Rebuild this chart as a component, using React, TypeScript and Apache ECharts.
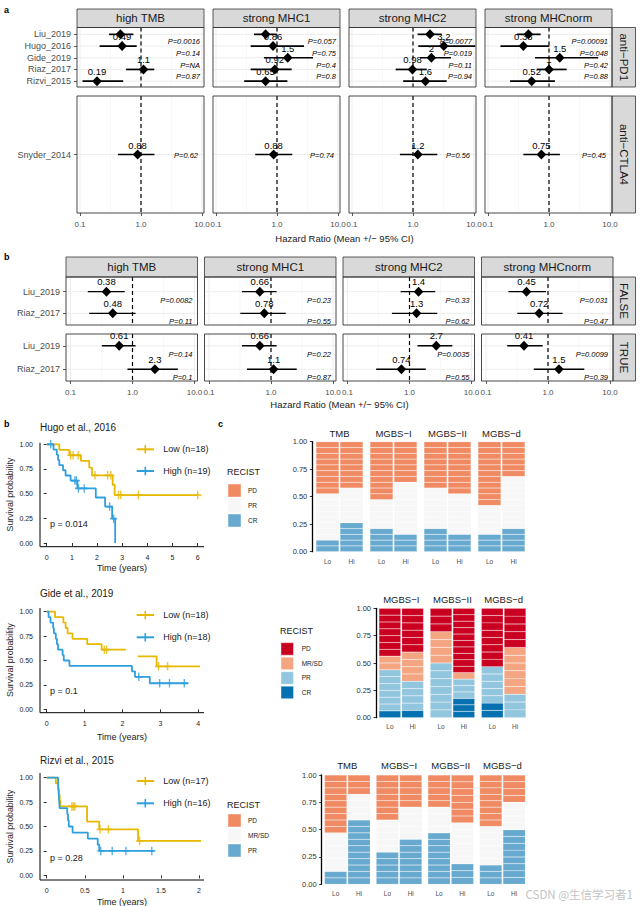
import React, { useEffect, useRef } from "react";
import * as echarts from "echarts";

const FONT = "'Liberation Sans', Arial, Helvetica, sans-serif";
const CJK = "'Noto Sans CJK SC', 'Noto Sans', sans-serif";

// ================= Panel a data =================
const features = ["high TMB", "strong MHC1", "strong MHC2", "strong MHCnorm"];
const studiesPD1 = ["Liu_2019", "Hugo_2016", "Gide_2019", "Riaz_2017", "Rizvi_2015"];
const pd1HR = [
  [0.46, 0.49, null, 1.1, 0.19],
  [0.65, 0.86, 1.5, 0.92, 0.65],
  [1.9, 3.2, 2, 0.98, 1.6],
  [0.46, 0.38, 1.5, 1, 0.52],
];
const pd1Lo = [
  [0.3, 0.21, null, 0.57, 0.11],
  [0.42, 0.37, 0.61, 0.37, 0.29],
  [1.19, 1.22, 1.3, 0.52, 0.69],
  [0.3, 0.16, 0.59, 0.63, 0.23],
];
const pd1Hi = [
  [0.75, 0.85, null, 1.65, 0.51],
  [0.99, 2.77, 3.9, 1.74, 1.48],
  [2.95, 10.5, 4.2, 1.68, 3.57],
  [0.73, 1.01, 6.4, 1.95, 1.25],
];
const pd1P = [
  ["0.0016", "0.14", "NA", "0.87", null],
  ["0.057", "0.75", "0.4", "0.8", null],
  ["0.0077", "0.019", "0.11", "0.94", null],
  ["0.00091", "0.048", "0.42", "0.88", null],
];
const pd1LabelShown = [false, true, true, true, true];

const studiesCTLA4 = ["Snyder_2014"];
const ctla4HR = [0.88, 0.88, 1.2, 0.75];
const ctla4Lo = [0.42, 0.44, 0.61, 0.38];
const ctla4Hi = [1.66, 1.78, 2.5, 1.51];
const ctla4P = ["0.62", "0.74", "0.56", "0.45"];

// ================= Panel b (forest) data =================
const subsetsB = ["FALSE", "TRUE"];
const studiesB = ["Liu_2019", "Riaz_2017"];
const bHR = [
  [[0.38, 0.48], [0.61, 2.3]],
  [[0.66, 0.78], [0.66, 1.1]],
  [[1.4, 1.3], [2.7, 0.74]],
  [[0.45, 0.72], [0.41, 1.5]],
];
const bLo = [
  [[0.19, 0.2], [0.32, 0.83]],
  [[0.34, 0.32], [0.34, 0.41]],
  [[0.72, 0.52], [1.35, 0.29]],
  [[0.23, 0.32], [0.22, 0.59]],
];
const bHi = [
  [[0.75, 1.12], [1.12, 5.4]],
  [[1.23, 1.73], [1.23, 2.6]],
  [[2.6, 2.8], [4.9, 1.83]],
  [[0.93, 1.72], [0.82, 3.85]],
];
const bP = [
  [["0.0082", "0.11"], ["0.14", "0.1"]],
  [["0.23", "0.55"], ["0.22", "0.87"]],
  [["0.33", "0.62"], ["0.0035", "0.55"]],
  [["0.031", "0.47"], ["0.0099", "0.39"]],
];

// ================= Kaplan-Meier data =================
const hugoLow = [[0, 1], [0.5, 0.944], [0.9, 0.889], [1.36, 0.833], [1.69, 0.764], [1.8, 0.686], [2.62, 0.59], [2.7, 0.486], [6, 0.486]];
const hugoLowCensor = [[0.95, 0.889], [1.05, 0.889], [1.25, 0.889], [1.92, 0.686], [2.42, 0.686], [2.55, 0.686], [2.85, 0.486], [2.94, 0.486], [3.64, 0.486], [6, 0.486]];
const hugoHigh = [[0, 1], [0.27, 0.947], [0.4, 0.895], [0.45, 0.842], [0.5, 0.789], [0.65, 0.737], [0.75, 0.684], [0.95, 0.632], [1.22, 0.553], [1.95, 0.461], [2.32, 0.369], [2.6, 0.246], [2.72, 0]];
const hugoHighCensor = [[0.16, 1], [1.12, 0.632], [1.18, 0.632], [1.26, 0.553], [1.49, 0.553], [2.5, 0.369], [2.66, 0.246]];

const gideLowA = [[0, 1], [0.22, 0.944], [0.44, 0.889], [0.5, 0.833], [0.55, 0.778], [0.68, 0.722], [1.07, 0.667], [1.45, 0.611], [2.09, 0.611]];
const gideLowB = [[2.4, 0.543], [2.9, 0.44], [4.15, 0.44]];
const gideLowCensor = [[1.52, 0.611], [1.58, 0.611], [2.95, 0.44], [3.19, 0.44]];
const gideHigh = [[0, 1], [0.05, 0.944], [0.1, 0.889], [0.17, 0.833], [0.19, 0.778], [0.24, 0.722], [0.27, 0.667], [0.3, 0.611], [0.42, 0.556], [0.45, 0.5], [0.6, 0.444], [2.25, 0.389], [2.33, 0.333], [2.72, 0.267], [3.74, 0.267]];
const gideHighCensor = [[2.43, 0.333], [2.98, 0.267], [3.24, 0.267], [3.63, 0.267]];

const rizviLow = [[0, 1], [0.12, 0.941], [0.15, 0.882], [0.16, 0.824], [0.17, 0.765], [0.18, 0.706], [0.53, 0.549], [0.69, 0.471], [1.2, 0.353], [2.07, 0.353]];
const rizviLowCensor = [[0.33, 0.706], [0.35, 0.706], [0.37, 0.706], [0.7, 0.471], [0.81, 0.471], [1.22, 0.353]];
const rizviHigh = [[0, 1], [0.15, 0.938], [0.155, 0.875], [0.16, 0.813], [0.165, 0.75], [0.17, 0.688], [0.27, 0.625], [0.28, 0.563], [0.29, 0.5], [0.34, 0.438], [0.54, 0.375], [0.67, 0.313], [0.69, 0.25], [1.41, 0.25]];
const rizviHighCensor = [[0.71, 0.25], [0.86, 0.25], [1.04, 0.25], [1.38, 0.25]];

const kmTitles = ["Hugo et al., 2016", "Gide et al., 2019", "Rizvi et al., 2015"];
const kmLegends = [["Low (n=18)", "High (n=19)"], ["Low (n=18)", "High (n=18)"], ["Low (n=17)", "High (n=16)"]];
const kmP = ["p = 0.014", "p = 0.1", "p = 0.28"];

// ================= Panel c (response bars) data =================
const c1Facets = ["TMB", "MGBS−I", "MGBS−II", "MGBS−d"];
const c1Classes = ["CR", "PR", "PD"]; // bottom -> top
const c1Lo = [[2, 8, 9], [4, 5, 10], [4, 7, 8], [3, 5, 11]];
const c1Hi = [[5, 6, 8], [3, 9, 7], [3, 7, 9], [4, 9, 6]];

const c2Facets = ["MGBS−I", "MGBS−II", "MGBS−d"];
const c2Classes = ["CR", "PR", "MR/SD", "PD"];
const c2Lo = [[1, 6, 2, 7], [0, 7, 4, 3], [2, 5, 0, 8]];
const c2Hi = [[1, 4, 4, 6], [3, 3, 1, 10], [0, 3, 6, 5]];

const c3Facets = ["TMB", "MGBS−I", "MGBS−II", "MGBS−d"];
const c3Classes = ["PR", "MR/SD", "PD"];
const c3Lo = [[2, 6, 9], [5, 5, 7], [8, 4, 5], [3, 6, 8]];
const c3Hi = [[10, 4, 3], [7, 5, 5], [3, 6, 7], [8, 4, 4]];

const groupsLoHi = ["Lo", "Hi"];

// ================= styles =================
const YELLOW = "#E7B800";
const BLUE = "#2E9FDF";
const pal3: any = { PD: "#EF8A62", PR: "#F7F7F7", CR: "#67A9CF" };
const pal3b: any = { PD: "#EF8A62", "MR/SD": "#F7F7F7", PR: "#67A9CF" };
const pal4: any = { PD: "#CA0020", "MR/SD": "#F4A582", PR: "#92C5DE", CR: "#0571B0" };
const PLUS = "path://M4,0L6,0L6,10L4,10ZM0,4L10,4L10,6L0,6Z";

const fmtHR = (v: number) => String(Number(v.toPrecision(2)));

function txt(x: number, y: number, text: string, s: any = {}, extra: any = {}) {
  return {
    type: "text", x, y, silent: true, z: 50, ...extra,
    style: { text, fontFamily: FONT, fontSize: 9, fill: "#1A1A1A", align: "left", verticalAlign: "middle", ...s },
  };
}
function rect(x: number, y: number, w: number, h: number, style: any, z = 40) {
  return { type: "rect", shape: { x, y, width: w, height: h }, style, silent: true, z };
}
function gline(x1: number, y1: number, x2: number, y2: number, style: any, z = 40) {
  return { type: "line", shape: { x1, y1, x2, y2 }, style, silent: true, z };
}

function addForest(o: any, c: any) {
  const gi = o.grid.length;
  o.grid.push({ left: c.L + c.padL, top: c.gTop, width: c.W - c.padL - c.padR, height: c.gBot - c.gTop });
  const xi = o.xAxis.length;
  o.xAxis.push({
    type: "log", logBase: 10, min: 0.1, max: 10, gridIndex: gi,
    axisLine: { show: false },
    axisTick: { show: c.showX, length: 3, lineStyle: { color: "#333", width: 0.8 } },
    axisLabel: { show: c.showX, fontSize: 8, color: "#4D4D4D", margin: 7, fontFamily: FONT, formatter: (v: number) => Number(v).toFixed(1) },
    splitLine: { show: false },
  });
  const yi = o.yAxis.length;
  o.yAxis.push({
    type: "category", data: c.cats, inverse: true, gridIndex: gi, offset: c.padL,
    axisLine: { show: false },
    axisTick: { show: c.showY, alignWithLabel: true, interval: 0, length: 3, lineStyle: { color: "#333", width: 0.8 } },
    axisLabel: { show: c.showY, interval: 0, fontSize: 9, color: "#4D4D4D", margin: 6, fontFamily: FONT },
    splitLine: { show: false },
  });
  o.series.push({
    type: "custom", xAxisIndex: xi, yAxisIndex: yi,
    data: c.cats.map((_: any, i: number) => [c.hr[i] == null ? 1 : c.hr[i], i]),
    encode: { x: 0, y: 1 },
    renderItem: (params: any, api: any) => {
      const i = params.dataIndex;
      const ch: any[] = [];
      const x0 = c.L, x1 = c.L + c.W;
      if (i === 0) {
        for (const v of [Math.sqrt(0.1), Math.sqrt(10)]) {
          const x = api.coord([v, 0])[0];
          ch.push({ type: "line", shape: { x1: x, y1: c.pTop, x2: x, y2: c.pBot }, style: { stroke: "#F4F4F4", lineWidth: 0.6 } });
        }
        for (const v of [0.1, 1, 10]) {
          const x = api.coord([v, 0])[0];
          ch.push({ type: "line", shape: { x1: x, y1: c.pTop, x2: x, y2: c.pBot }, style: { stroke: "#EBEBEB", lineWidth: 0.9 } });
        }
        for (let j = 0; j < c.cats.length; j++) {
          const y = api.coord([1, j])[1];
          ch.push({ type: "line", shape: { x1: x0, y1: y, x2: x1, y2: y }, style: { stroke: "#EBEBEB", lineWidth: 0.9 } });
        }
        const xd = api.coord([1, 0])[0];
        ch.push({ type: "line", shape: { x1: xd, y1: c.pTop, x2: xd, y2: c.pBot }, style: { stroke: "#000", lineWidth: 1.2, lineDash: [4, 3] } });
      }
      const py0 = api.coord([1, i])[1];
      const h = c.hr[i];
      if (h != null) {
        const [px, py] = api.coord([h, i]);
        const xl = api.coord([c.lo[i], i])[0];
        const xh = api.coord([c.hi[i], i])[0];
        ch.push({ type: "line", shape: { x1: xl, y1: py, x2: xh, y2: py }, style: { stroke: "#000", lineWidth: c.lw } });
        ch.push({ type: "polygon", shape: { points: [[px, py - 5], [px + 4.8, py], [px, py + 5], [px - 4.8, py]] }, style: { fill: "#000" } });
        if (c.showLab[i]) {
          ch.push({ type: "text", x: px, y: py + c.labDy, style: { text: fmtHR(h), fontSize: 9.5, fill: "#000", fontFamily: FONT, align: "center", verticalAlign: "middle" } });
        }
      }
      if (c.p[i] != null) {
        const xr = api.coord([10, i])[0] + c.pDx;
        ch.push({ type: "text", x: xr, y: py0 + c.pDy, style: { text: "P=" + c.p[i], fontSize: 7.5, fontStyle: "italic", fill: "#000", fontFamily: FONT, align: "right", verticalAlign: "middle" } });
      }
      return { type: "group", children: ch };
    },
  });
}

function addKM(o: any, k: any) {
  const g = o.graphic;
  const gi = o.grid.length;
  o.grid.push({ left: k.t0, top: k.y0 - k.pxY, width: k.xMax * k.pxX, height: k.pxY });
  const xi = o.xAxis.length;
  o.xAxis.push({
    type: "value", gridIndex: gi, min: 0, max: k.xMax, interval: k.xInt, offset: k.axY - k.y0,
    axisLine: { show: false },
    axisTick: { show: true, length: 3, lineStyle: { color: "#000", width: 0.8 } },
    axisLabel: { fontSize: 7, color: "#1A1A1A", margin: 7, fontFamily: FONT },
    splitLine: { show: false },
  });
  const yi = o.yAxis.length;
  o.yAxis.push({
    type: "value", gridIndex: gi, min: 0, max: 1, interval: 0.25, offset: k.t0 - k.axX,
    axisLine: { show: false },
    axisTick: { show: true, length: 3, lineStyle: { color: "#000", width: 0.8 } },
    axisLabel: { fontSize: 7, color: "#1A1A1A", margin: 7, fontFamily: FONT, formatter: (v: number) => v.toFixed(2) },
    splitLine: { show: false },
  });
  k.curves.forEach((cv: any) => {
    cv.lines.forEach((seg: any) => {
      o.series.push({ type: "line", xAxisIndex: xi, yAxisIndex: yi, data: seg, step: "end", symbol: "none", showSymbol: false, clip: false, lineStyle: { color: cv.color, width: 1.8 }, z: 3 });
    });
    o.series.push({ type: "scatter", xAxisIndex: xi, yAxisIndex: yi, data: cv.censor, symbol: PLUS, symbolSize: [7, 8.5], itemStyle: { color: cv.color }, z: 4 });
  });
  g.push(gline(k.axX, k.axTop, k.axX, k.axY, { stroke: "#000", lineWidth: 1 }));
  g.push(gline(k.axX, k.axY, k.axRight, k.axY, { stroke: "#000", lineWidth: 1 }));
  g.push(txt(40, k.titleY, k.title, { fontSize: 10 }));
  k.legY.forEach((ly: number, li: number) => {
    const col = k.curves[li].color;
    g.push(gline(136.7, ly, 154, ly, { stroke: col, lineWidth: 2 }));
    g.push(gline(145.3, ly - 4.2, 145.3, ly + 4.2, { stroke: col, lineWidth: 1.6 }));
    g.push(txt(163.3, ly, k.legend[li], { fontSize: 9 }));
  });
  g.push(txt(50, k.pY, k.p, { fontSize: 9 }));
  g.push(txt(10, k.yTitleY, "Survival probability", { fontSize: 8.8, align: "center" }, { rotation: Math.PI / 2 }));
  g.push(txt(122, k.xTitleY, "Time (years)", { fontSize: 9, align: "center" }));
}

function expand(counts: number[], classes: string[]) {
  const out: string[] = [];
  counts.forEach((n, ci) => { for (let j = 0; j < n; j++) out.push(classes[ci]); });
  return out;
}

function addBars(o: any, b: any) {
  const g = o.graphic;
  b.facets.forEach((fname: string, fi: number) => {
    const gi = o.grid.length;
    const left = b.starts[fi];
    o.grid.push({ left, top: b.y1, width: b.w, height: b.y0 - b.y1 });
    const xi = o.xAxis.length;
    o.xAxis.push({
      type: "category", data: groupsLoHi, gridIndex: gi,
      axisLine: { show: false }, axisTick: { show: false },
      axisLabel: { interval: 0, fontSize: 6.5, color: "#4D4D4D", margin: b.xMargin, fontFamily: FONT },
      splitLine: { show: false },
    });
    const yi = o.yAxis.length;
    o.yAxis.push({
      type: "value", gridIndex: gi, min: 0, max: 1, interval: 0.25, show: fi === 0, offset: left - b.axX,
      axisLine: { show: true, lineStyle: { color: "#000", width: 1.3 } },
      axisTick: { show: true, length: 2.5, lineStyle: { color: "#000", width: 0.8 } },
      axisLabel: { fontSize: 7.5, color: "#333", margin: 5, fontFamily: FONT, formatter: (v: number) => v.toFixed(2) },
      splitLine: { show: false },
    });
    const lo = expand(b.lo[fi], b.classes);
    const hi = expand(b.hi[fi], b.classes);
    const n = Math.max(lo.length, hi.length);
    const item = (arr: string[], k: number) =>
      k < arr.length ? { value: 1 / arr.length, itemStyle: { color: b.pal[arr[k]] } } : "-";
    for (let k = 0; k < n; k++) {
      o.series.push({
        type: "bar", xAxisIndex: xi, yAxisIndex: yi, stack: "s" + gi, barCategoryGap: "4%",
        data: [item(lo, k), item(hi, k)],
        itemStyle: { borderColor: "rgba(255,255,255,0.35)", borderWidth: 0.45 },
      });
    }
    g.push(txt(left + b.w / 2, b.titleY, fname, { fontSize: 9.5, align: "center" }));
  });
  g.push(txt(b.leg.x - 1, b.leg.titleY, "RECIST", { fontSize: 9 }));
  b.leg.order.forEach((cls: string, i: number) => {
    const y = b.leg.y0 + i * b.leg.step;
    g.push(rect(b.leg.x, y, b.leg.size, b.leg.size, { fill: b.pal[cls], stroke: "rgba(255,255,255,0.7)", lineWidth: 0.6 }));
    g.push(txt(b.leg.tx, y + b.leg.size / 2, cls, { fontSize: 6.5 }));
  });
}

function buildOption() {
  const o: any = { grid: [], xAxis: [], yAxis: [], series: [], graphic: [] };
  const g = o.graphic;

  const bold = { fontWeight: "bold", fontSize: 9, fill: "#000" };
  g.push(txt(4, 9.5, "a", bold));
  g.push(txt(4, 257, "b", bold));
  g.push(txt(4, 424, "b", bold));
  g.push(txt(218, 424, "c", bold));

  const stripStyle = { fill: "#D9D9D9", stroke: "#333", lineWidth: 0.8 };
  const borderStyle = { fill: "none", stroke: "#333", lineWidth: 0.9 };

  // ---------- Panel a ----------
  const colsA = [77, 213, 349, 485];
  const WA = 127;
  features.forEach((f, fi) => {
    const L = colsA[fi];
    g.push(rect(L, 9, WA, 18.5, stripStyle));
    g.push(txt(L + WA / 2, 18.25, f, { fontSize: 11.5, align: "center" }));
    addForest(o, {
      L, W: WA, padL: 3, padR: 2, pTop: 27.5, pBot: 87, gTop: 28.5, gBot: 87,
      cats: studiesPD1, hr: pd1HR[fi], lo: pd1Lo[fi], hi: pd1Hi[fi], p: pd1P[fi], showLab: pd1LabelShown,
      labDy: -9.5, pDy: 7.5, pDx: -2, showY: fi === 0, showX: false, lw: 1.7,
    });
    g.push(rect(L, 27.5, WA, 59.5, borderStyle, 60));
    addForest(o, {
      L, W: WA, padL: 3, padR: 2, pTop: 96, pBot: 213, gTop: 96, gBot: 213,
      cats: studiesCTLA4, hr: [ctla4HR[fi]], lo: [ctla4Lo[fi]], hi: [ctla4Hi[fi]], p: [ctla4P[fi]], showLab: [true],
      labDy: -9, pDy: 1, pDx: -4, showY: fi === 0, showX: true, lw: 1.7,
    });
    g.push(rect(L, 96, WA, 117, borderStyle, 60));
  });
  g.push(rect(612, 27.5, 23.5, 59.5, stripStyle));
  g.push(txt(623.75, 57.25, "anti−PD1", { fontSize: 11.5, align: "center" }, { rotation: -Math.PI / 2 }));
  g.push(rect(612, 96, 23.5, 117, stripStyle));
  g.push(txt(623.75, 154.5, "anti−CTLA4", { fontSize: 11.5, align: "center" }, { rotation: -Math.PI / 2 }));
  g.push(txt(344.5, 238, "Hazard Ratio (Mean +/− 95% CI)", { fontSize: 9.5, align: "center" }));

  // ---------- Panel b (forest) ----------
  const colsB = [66, 204.5, 343, 481.5];
  const WB = 131.5;
  const rowsB = [
    { pTop: 277, pBot: 325, gTop: 280.8, gBot: 324.2 },
    { pTop: 334, pBot: 381, gTop: 334, gBot: 381 },
  ];
  features.forEach((f, fi) => {
    const L = colsB[fi];
    g.push(rect(L, 257, WB, 20, stripStyle));
    g.push(txt(L + WB / 2, 267, f, { fontSize: 11.5, align: "center" }));
    subsetsB.forEach((s, si) => {
      const r = rowsB[si];
      addForest(o, {
        L, W: WB, padL: 4.5, padR: 3, pTop: r.pTop, pBot: r.pBot, gTop: r.gTop, gBot: r.gBot,
        cats: studiesB, hr: bHR[fi][si], lo: bLo[fi][si], hi: bHi[fi][si], p: bP[fi][si], showLab: [true, true],
        labDy: -10, pDy: 8.5, pDx: -2, showY: fi === 0, showX: si === 1, lw: 1.4,
      });
      g.push(rect(L, r.pTop, WB, r.pBot - r.pTop, borderStyle, 60));
    });
  });
  subsetsB.forEach((s, si) => {
    const r = rowsB[si];
    g.push(rect(613, r.pTop, 22.5, r.pBot - r.pTop, stripStyle));
    g.push(txt(624.25, (r.pTop + r.pBot) / 2, s, { fontSize: 11.5, align: "center" }, { rotation: -Math.PI / 2 }));
  });
  g.push(txt(339.5, 404, "Hazard Ratio (Mean +/− 95% CI)", { fontSize: 9.5, align: "center" }));

  // ---------- Kaplan-Meier ----------
  const kmLayouts = [
    { titleY: 427, t0: 46.7, pxX: 25.17, xMax: 6, xInt: 1, y0: 543, pxY: 98.7, axX: 40, axY: 546.7, axTop: 442.7, axRight: 204, legY: [449.3, 471], pY: 524.3, yTitleY: 494.5, xTitleY: 568 },
    { titleY: 593.3, t0: 46.7, pxX: 37.9, xMax: 4, xInt: 1, y0: 709.3, pxY: 97.6, axX: 40, axY: 712.7, axTop: 608, axRight: 204, legY: [615, 637.3], pY: 691, yTitleY: 660, xTitleY: 737.3 },
    { titleY: 760, t0: 46.7, pxX: 76.15, xMax: 2, xInt: 0.5, y0: 875.3, pxY: 97.6, axX: 40, axY: 880, axTop: 773, axRight: 204, legY: [781, 803.3], pY: 857.7, yTitleY: 826.5, xTitleY: 901.7 },
  ];
  const kmCurves = [
    [{ color: YELLOW, lines: [hugoLow], censor: hugoLowCensor }, { color: BLUE, lines: [hugoHigh], censor: hugoHighCensor }],
    [{ color: YELLOW, lines: [gideLowA, gideLowB], censor: gideLowCensor }, { color: BLUE, lines: [gideHigh], censor: gideHighCensor }],
    [{ color: YELLOW, lines: [rizviLow], censor: rizviLowCensor }, { color: BLUE, lines: [rizviHigh], censor: rizviHighCensor }],
  ];
  kmLayouts.forEach((lay, i) => {
    addKM(o, { ...lay, title: kmTitles[i], legend: kmLegends[i], p: kmP[i], curves: kmCurves[i] });
  });

  // ---------- Response bars ----------
  addBars(o, {
    facets: c1Facets, classes: c1Classes, lo: c1Lo, hi: c1Hi, pal: pal3,
    starts: [315.5, 369.5, 423.5, 477.5], w: 48, y0: 551.7, y1: 441.7, axX: 312.3, titleY: 433.3, xMargin: 6,
    leg: { x: 228, titleY: 472, y0: 484, step: 15, size: 13, tx: 248, order: ["PD", "PR", "CR"] },
  });
  addBars(o, {
    facets: c2Facets, classes: c2Classes, lo: c2Lo, hi: c2Hi, pal: pal4,
    starts: [378.5, 429.7, 480.9], w: 45.5, y0: 717.7, y1: 608.3, axX: 376, titleY: 599, xMargin: 5.5,
    leg: { x: 281, titleY: 631, y0: 642.7, step: 14.5, size: 12.5, tx: 301.7, order: ["PD", "MR/SD", "PR", "CR"] },
  });
  addBars(o, {
    facets: c3Facets, classes: c3Classes, lo: c3Lo, hi: c3Hi, pal: pal3b,
    starts: [324, 375.7, 427.4, 479.1], w: 46.7, y0: 884.3, y1: 775, axX: 321.7, titleY: 765.7, xMargin: 5.5,
    leg: { x: 228, titleY: 805, y0: 814, step: 15, size: 13, tx: 248, order: ["PD", "MR/SD", "PR"] },
  });

  g.push(txt(633, 894, "CSDN @生信学习者1", { fontSize: 11.5, fill: "#C4C4C4", align: "right", fontFamily: CJK }));

  return {
    animation: false,
    backgroundColor: "#ffffff",
    textStyle: { fontFamily: FONT },
    grid: o.grid,
    xAxis: o.xAxis,
    yAxis: o.yAxis,
    series: o.series,
    graphic: { elements: o.graphic },
  };
}

export default function App() {
  const ref = useRef<HTMLDivElement>(null);
  useEffect(() => {
    const chart = echarts.init(ref.current as HTMLDivElement, null, { renderer: "svg" });
    chart.setOption(buildOption() as any);
    return () => chart.dispose();
  }, []);
  return (
    <div
      ref={ref}
      style={{ position: "fixed", left: 0, top: 0, width: 641, height: 906, background: "#fff" }}
    />
  );
}
